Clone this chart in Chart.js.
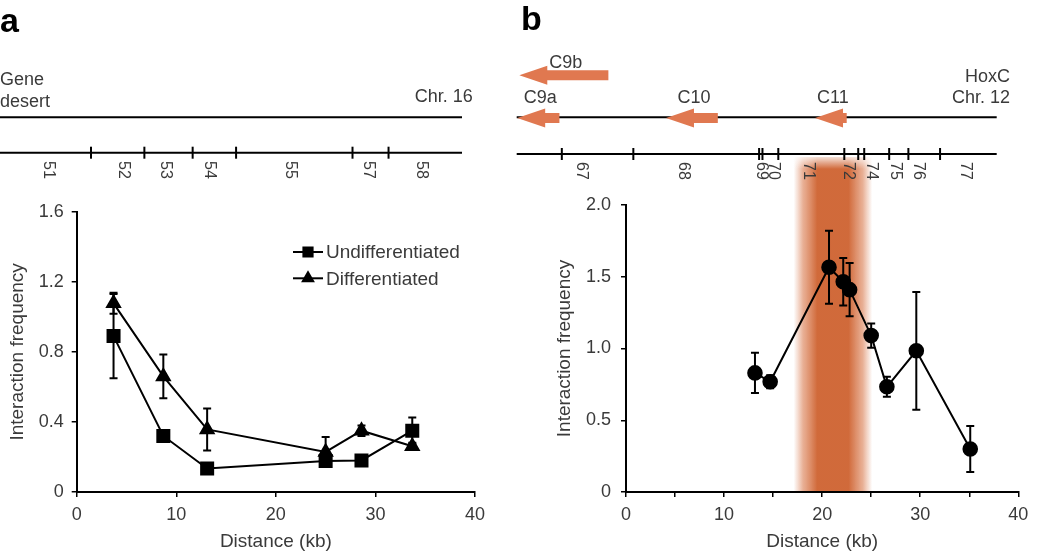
<!DOCTYPE html>
<html>
<head>
<meta charset="utf-8">
<script src="https://cdn.jsdelivr.net/npm/chart.js@4.4.1/dist/chart.umd.min.js"></script>
<style>
html, body { margin: 0; padding: 0; background: #fff; }
#wrap { position: relative; width: 1050px; height: 557px; overflow: hidden; }
#panelA { position: absolute; left: 0; top: 0; }
#panelB { position: absolute; left: 510px; top: 0; }
</style>
</head>
<body>
<div id="wrap">
  <canvas id="panelA" width="510" height="557"></canvas>
  <canvas id="panelB" width="540" height="557"></canvas>
</div>
<script>
// ===== Data: panel a (gene desert, Chr. 16) =====
var distA = [3.7, 8.7, 13.1, 25.0, 28.6, 33.7];
var undiffVals = [0.89, 0.32, 0.134, 0.177, 0.18, 0.35];
var undiffErr = [0.24, 0.02, 0.01, 0.02, 0.01, 0.075];
var diffVals = [1.077, 0.66, 0.357, 0.229, 0.35, 0.261];
var diffErr = [0.06, 0.125, 0.12, 0.085, 0.03, 0.02];

// ===== Data: panel b (HoxC, Chr. 12) =====
var distB = [13.15, 14.7, 20.7, 22.15, 22.8, 25.0, 26.6, 29.6, 35.1];
var hoxVals = [0.83, 0.768, 1.566, 1.465, 1.41, 1.09, 0.733, 0.984, 0.30];
var hoxErr = [0.14, 0.045, 0.255, 0.165, 0.185, 0.085, 0.07, 0.41, 0.16];
var bandRange = [17.1, 25.1];

// ===== Restriction maps (fraction along the drawn map line) =====
var mapTicksA = [0.197, 0.3125, 0.417, 0.511, 0.763, 0.841];
var fragLabelsA = ['51', '52', '53', '54', '55', '57', '58'];
var fragPosA = [0.105, 0.267, 0.359, 0.453, 0.628, 0.798, 0.913];

var mapTicksB = [0.094, 0.243, 0.505, 0.512, 0.545, 0.6825, 0.7115, 0.724, 0.776, 0.816, 0.882];
var fragLabelsB = ['67', '68', '69', '70', '71', '72', '74', '75', '76', '77'];
var fragPosB = [0.135, 0.347, 0.51, 0.535, 0.6075, 0.691, 0.74, 0.788, 0.837, 0.934];

var geneNames = ['C9b', 'C9a', 'C10', 'C11'];
var geneTip = [0.0054, 0.001, 0.311, 0.6215];
var geneTail = [0.191, 0.089, 0.419, 0.6875];
var geneRow = [0, 1, 1, 1];

var FONT = '"Liberation Sans", Arial, Helvetica, sans-serif';
var TEXT = '#3a3a3a';
var GENE_COLOR = '#e07850';

function toPoints(xs, ys) {
    var out = [];
    for (var i = 0; i < xs.length; i++) out.push({ x: xs[i], y: ys[i] });
    return out;
}

function fmtY(v) { return v === 0 ? '0' : v.toFixed(1); }

// ===== Plugins =====

var errorBars = {
    id: 'errorBars',
    beforeDatasetsDraw: function(chart) {
        var ctx = chart.ctx, xs = chart.scales.x, ys = chart.scales.y;
        ctx.save();
        ctx.strokeStyle = '#000';
        ctx.lineWidth = 2;
        chart.data.datasets.forEach(function(ds) {
            if (!ds.errors) return;
            ds.data.forEach(function(p, i) {
                var e = ds.errors[i];
                var x = xs.getPixelForValue(p.x);
                var yT = ys.getPixelForValue(p.y + e);
                var yB = ys.getPixelForValue(p.y - e);
                ctx.beginPath();
                ctx.moveTo(x, yT); ctx.lineTo(x, yB);
                ctx.moveTo(x - 4, yT); ctx.lineTo(x + 4, yT);
                ctx.moveTo(x - 4, yB); ctx.lineTo(x + 4, yB);
                ctx.stroke();
            });
        });
        ctx.restore();
    }
};

function line(ctx, x1, y1, x2, y2) {
    ctx.beginPath(); ctx.moveTo(x1, y1); ctx.lineTo(x2, y2); ctx.stroke();
}

function drawMap(ctx, m) {
    var span = m.x1 - m.x0;
    function px(f) { return m.x0 + f * span; }
    ctx.save();
    ctx.strokeStyle = '#000';
    ctx.lineWidth = 2;
    line(ctx, m.x0, m.chrY, m.x1, m.chrY);
    line(ctx, m.x0, m.tickY, m.x1, m.tickY);
    m.ticks.forEach(function(f) { line(ctx, px(f), m.tickY - 6, px(f), m.tickY + 6); });

    ctx.fillStyle = TEXT;
    ctx.font = '16px ' + FONT;
    ctx.textAlign = 'center';
    ctx.textBaseline = 'middle';
    m.labels.forEach(function(t, i) {
        ctx.save();
        ctx.translate(px(m.labelPos[i]), m.labelY);
        ctx.rotate(Math.PI / 2);
        ctx.fillText(t, 0, 0);
        ctx.restore();
    });

    if (m.genes) {
        m.genes.names.forEach(function(name, i) {
            var tip = px(m.genes.tip[i]), tail = px(m.genes.tail[i]);
            var y = m.genes.rowY[m.genes.row[i]];
            var head = Math.min(28, tail - tip);
            ctx.fillStyle = GENE_COLOR;
            ctx.beginPath();
            ctx.moveTo(tip, y);
            ctx.lineTo(tip + head, y - 9.5);
            if (tail - tip > head) {
                ctx.lineTo(tip + head, y - 5);
                ctx.lineTo(tail, y - 5);
                ctx.lineTo(tail, y + 5);
                ctx.lineTo(tip + head, y + 5);
            }
            ctx.lineTo(tip + head, y + 9.5);
            ctx.closePath();
            ctx.fill();
            ctx.fillStyle = TEXT;
            ctx.font = '18px ' + FONT;
            ctx.textAlign = 'center';
            ctx.textBaseline = 'alphabetic';
            ctx.fillText(name, (tip + tail) / 2 + 2, m.genes.labelY[m.genes.row[i]]);
        });
    }

    ctx.fillStyle = TEXT;
    ctx.font = '18px ' + FONT;
    ctx.textBaseline = 'alphabetic';
    m.texts.forEach(function(t) {
        ctx.textAlign = t.align;
        ctx.fillText(t.text, t.x, t.y);
    });

    ctx.fillStyle = '#000';
    ctx.font = 'bold 34px ' + FONT;
    ctx.textAlign = 'left';
    ctx.fillText(m.panel, m.panelX, m.panelY);
    ctx.restore();
}

function mapPlugin(m) {
    return {
        id: 'map',
        afterDraw: function(chart) { drawMap(chart.ctx, m); }
    };
}

var legendA = {
    id: 'legendA',
    afterDraw: function(chart) {
        var ctx = chart.ctx;
        ctx.save();
        chart.data.datasets.forEach(function(ds, i) {
            var y = 252 + i * 26.3;
            ctx.strokeStyle = '#000';
            ctx.fillStyle = '#000';
            ctx.lineWidth = 2;
            line(ctx, 293, y, 323, y);
            Chart.helpers.drawPoint(ctx, { pointStyle: ds.pointStyle, radius: ds.legendRadius, rotation: 0, borderWidth: 1 }, 308, y);
            ctx.fillStyle = TEXT;
            ctx.font = '19px ' + FONT;
            ctx.textAlign = 'left';
            ctx.textBaseline = 'middle';
            ctx.fillText(ds.label, 326, y + 1);
        });
        ctx.restore();
    }
};

var bandPlugin = {
    id: 'band',
    beforeDraw: function(chart) {
        var ctx = chart.ctx, xs = chart.scales.x;
        var l = xs.getPixelForValue(bandRange[0]);
        var r = xs.getPixelForValue(bandRange[1]);
        var top = 157, bottom = chart.chartArea.bottom;
        var g = ctx.createLinearGradient(l, 0, r, 0);
        g.addColorStop(0, 'rgba(214,110,62,0)');
        g.addColorStop(0.12, 'rgba(214,110,62,0.55)');
        g.addColorStop(0.3, 'rgba(206,98,48,0.95)');
        g.addColorStop(0.7, 'rgba(206,98,48,0.95)');
        g.addColorStop(0.88, 'rgba(214,110,62,0.55)');
        g.addColorStop(1, 'rgba(214,110,62,0)');
        ctx.save();
        ctx.fillStyle = g;
        ctx.fillRect(l, top, r - l, bottom - top);
        var v = ctx.createLinearGradient(0, top, 0, top + 12);
        v.addColorStop(0, 'rgba(255,255,255,0.8)');
        v.addColorStop(1, 'rgba(255,255,255,0)');
        ctx.fillStyle = v;
        ctx.fillRect(l, top, r - l, 12);
        ctx.restore();
    }
};

function axisX(showTick) {
    return {
        type: 'linear', min: 0, max: 40,
        ticks: {
            stepSize: showTick ? 5 : 10, color: TEXT, font: { size: 18, family: FONT }, padding: 7, maxRotation: 0,
            callback: function(v) { return v % 10 === 0 ? String(v) : ''; }
        },
        grid: { drawOnChartArea: false, drawTicks: true, tickLength: 5, color: '#000', lineWidth: 1.5 },
        border: { color: '#000', width: 2 },
        title: { display: true, text: 'Distance (kb)', color: TEXT, font: { size: 19, family: FONT }, padding: { top: 0, bottom: 4 } },
        afterFit: function(s) { s.height = 65; }
    };
}

function axisY(max, step, width, titlePad, tickPad) {
    return {
        type: 'linear', min: 0, max: max,
        ticks: { stepSize: step, color: TEXT, font: { size: 18, family: FONT }, padding: tickPad, callback: fmtY },
        grid: { drawOnChartArea: false, drawTicks: true, tickLength: 5, color: '#000', lineWidth: 1.5 },
        border: { color: '#000', width: 2 },
        title: { display: true, text: 'Interaction frequency', color: TEXT, font: { size: 19, family: FONT }, padding: { top: titlePad, bottom: 0 } },
        afterFit: function(s) { s.width = width; }
    };
}

// ===== Panel a =====

new Chart(document.getElementById('panelA'), {
    type: 'scatter',
    data: {
        datasets: [{
            label: 'Undifferentiated',
            data: toPoints(distA, undiffVals),
            errors: undiffErr,
            showLine: true,
            borderColor: '#000', backgroundColor: '#000', borderWidth: 2,
            pointStyle: 'rect', pointRadius: 8.5, legendRadius: 6.5
        }, {
            label: 'Differentiated',
            data: toPoints(distA, diffVals),
            errors: diffErr,
            showLine: true,
            borderColor: '#000', backgroundColor: '#000', borderWidth: 2,
            pointStyle: 'triangle', pointRadius: 7.5, legendRadius: 6
        }]
    },
    options: {
        responsive: false,
        animation: false,
        layout: { padding: { top: 211.7, right: 35, left: 0, bottom: 0 } },
        plugins: { legend: { display: false }, tooltip: { enabled: false } },
        scales: { x: axisX(false), y: axisY(1.6, 0.4, 76.7, 6.6, 8) }
    },
    plugins: [errorBars, legendA, mapPlugin({
        x0: 0, x1: 462, chrY: 117.3, tickY: 152.7, labelY: 170,
        ticks: mapTicksA, labels: fragLabelsA, labelPos: fragPosA,
        texts: [
            { text: 'Gene', x: 0, y: 85, align: 'left' },
            { text: 'desert', x: 0, y: 106.7, align: 'left' },
            { text: 'Chr. 16', x: 472.7, y: 101.7, align: 'right' }
        ],
        panel: 'a', panelX: 0, panelY: 31.7
    })]
});

// ===== Panel b =====

new Chart(document.getElementById('panelB'), {
    type: 'scatter',
    data: {
        datasets: [{
            label: 'HoxC',
            data: toPoints(distB, hoxVals),
            errors: hoxErr,
            showLine: true,
            borderColor: '#000', backgroundColor: '#000', borderWidth: 2,
            pointStyle: 'circle', pointRadius: 6.8
        }]
    },
    options: {
        responsive: false,
        animation: false,
        layout: { padding: { top: 205, right: 31.7, left: 40, bottom: 0 } },
        plugins: { legend: { display: false }, tooltip: { enabled: false } },
        scales: { x: axisX(true), y: axisY(2.0, 0.5, 76, 3.6, 10) }
    },
    plugins: [bandPlugin, errorBars, mapPlugin({
        x0: 6.7, x1: 486.7, chrY: 117.3, tickY: 154, labelY: 171,
        ticks: mapTicksB, labels: fragLabelsB, labelPos: fragPosB,
        genes: { names: geneNames, tip: geneTip, tail: geneTail, row: geneRow, rowY: [75.3, 118], labelY: [68.3, 103] },
        texts: [
            { text: 'HoxC', x: 500, y: 81.7, align: 'right' },
            { text: 'Chr. 12', x: 500, y: 103.3, align: 'right' }
        ],
        panel: 'b', panelX: 11, panelY: 30
    })]
});
</script>
</body>
</html>
